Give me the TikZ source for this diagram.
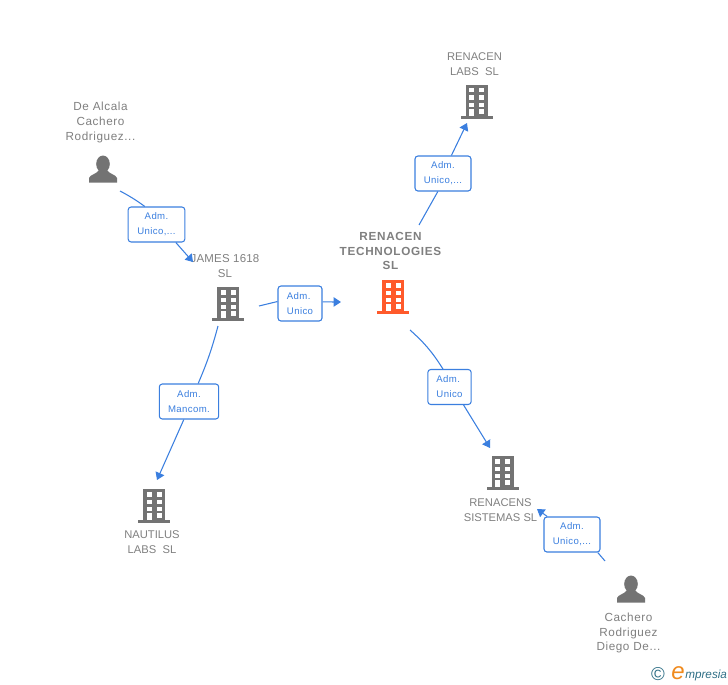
\documentclass[tikz,border=0pt]{standalone}
\usepackage{fontspec}
\setmainfont{Liberation Sans}
\usetikzlibrary{arrows.meta}
\definecolor{linkblue}{HTML}{3B7FDF}
\definecolor{labelgray}{HTML}{7F7F7F}
\definecolor{icongray}{HTML}{737373}
\definecolor{iconorange}{HTML}{FF5A2B}
\definecolor{logoteal}{HTML}{2F6F86}
\definecolor{logoorange}{HTML}{F08A1D}
\tikzset{
  x=0.75pt,y=-0.75pt,
  lbl/.style={text=labelgray,font=\fontsize{8.4pt}{11.2pt}\selectfont,align=center,inner sep=0pt},
  lblmixed/.style={lbl,font=\fontsize{8.8pt}{11.2pt}\selectfont\addfontfeature{LetterSpace=5}},
  lblbold/.style={lbl,font=\fontsize{8.8pt}{11.2pt}\selectfont\bfseries\addfontfeature{LetterSpace=6}},
  rolebox/.style={draw=linkblue,fill=white,rounded corners=2.2pt,line width=0.8pt,text=linkblue,
    font=\fontsize{7.2pt}{11.2pt}\selectfont\addfontfeature{LetterSpace=4},align=center,inner sep=0pt,minimum height=26.25pt},
  roleleft/.style={rolebox,align=left},
  link/.style={draw=linkblue,line width=0.8pt},
  linkarrow/.style={link,-{Triangle[length=5.5pt,width=7pt]}},
  pics/building/.style={code={
    \fill[#1] (-11,-17) rectangle (11,15);
    \fill[#1] (-16,14) rectangle (16,16.5);
    \foreach \yy in {-14,-6.5,0.5}{
      \fill[white] (-7.5,\yy) rectangle (-2.5,\yy+4.5);
      \fill[white] (2.5,\yy) rectangle (7.5,\yy+4.5);}
    \fill[white] (-7.5,7) rectangle (-2.5,14);
    \fill[white] (2.5,7) rectangle (7.5,11.5);
  }},
  pics/person/.style={code={
    \fill[icongray] (0,-6) ellipse (6.8 and 8.5);
    \fill[icongray] (-14,12.5) -- (-14,8) .. controls (-13,4.5) and (-6,4) .. (-4,0)
      -- (4,0) .. controls (6,4) and (13,4.5) .. (14,8) -- (14,12.5) -- cycle;
  }}
}
\begin{document}
\begin{tikzpicture}
\useasboundingbox (0,0) rectangle (728,685);
% icons
\pic at (228,304) {building=icongray};
\pic at (393,297) {building=iconorange};
\pic at (476.5,102) {building=icongray};
\pic at (502.5,473) {building=icongray};
\pic at (154,506) {building=icongray};
\pic at (103,170) {person};
\pic at (631,590) {person};
% labels
\node[lblmixed] (lblalcala) at (100.5,122.5) {De Alcala\\Cachero\\Rodriguez...};
\node[lbl,font=\fontsize{8.6pt}{11.2pt}\selectfont\addfontfeature{LetterSpace=2}] (lbljames) at (225,266) {JAMES 1618\\SL};
\node[lblbold] (lblrenacen) at (390.5,251) {RENACEN\\TECHNOLOGIES\\SL};
\node[lbl] (lbllabs) at (474.5,64) {RENACEN\\LABS\ \ SL};
\node[lbl] (lblsist) at (500.5,510) {RENACENS\\SISTEMAS SL};
\node[lbl] (lblnaut) at (152,542) {NAUTILUS\\LABS\ \ SL};
\node[lblmixed] (lblcach) at (628.5,633) {Cachero\\Rodriguez\\Diego De...};
% free connector ends
\coordinate (a1s) at (120,191);
\coordinate (a1e) at (193,262);
\coordinate (a2s) at (259,306);
\coordinate (a2e) at (341,302);
\coordinate (a3s) at (218,326);
\coordinate (a3e) at (157,480);
\coordinate (a4s) at (419,225);
\coordinate (a4e) at (467,123);
\coordinate (a5s) at (410,330);
\coordinate (a5e) at (490,448);
\coordinate (a6s) at (605,561);
\coordinate (a6e) at (537,509);
% role boxes
\node[rolebox,minimum width=42.5pt] (b1) at (156.5,224.5) {Adm.\\Unico,...};
\node[roleleft,minimum width=33pt] (b2) at (300,303.5) {Adm.\\Unico};
\node[rolebox,minimum width=44.5pt] (b3) at (189,401.5) {Adm.\\Mancom.};
\node[rolebox,minimum width=42pt] (b4) at (443,173.5) {Adm.\\Unico,...};
\node[roleleft,minimum width=32.5pt] (b5) at (449.5,387) {Adm.\\Unico};
\node[rolebox,minimum width=42pt] (b6) at (572,534.5) {Adm.\\Unico,...};
% connectors
\draw[link] (a1s) to[bend left=4] (b1.123);
\draw[linkarrow] (b1.-43) -- (a1e);
\draw[link] (a2s) -- (b2.175);
\draw[linkarrow] (b2.4) -- (a2e);
\draw[link] (a3s) to[bend left=4] (b3.63);
\draw[linkarrow] (b3.-106) -- (a3e);
\draw[link] (a4s) -- (b4.-106);
\draw[linkarrow] (b4.65) -- (a4e);
\draw[link] (a5s) to[bend left=8] (b5.110);
\draw[linkarrow] (b5.-52) -- (a5e);
\draw[link] (a6s) -- (b6.-35);
\draw[linkarrow] (b6.144) -- (a6e);
% logo
\node[text=logoteal,font=\fontsize{14pt}{14pt}\selectfont,inner sep=0pt] (copy) at (658,674) {©};
\node[text=logoorange,font=\fontsize{18pt}{18pt}\selectfont\itshape,inner sep=0pt] (loge) at (678,673) {e};
\node[text=logoteal,font=\fontsize{8.8pt}{10pt}\selectfont\itshape,inner sep=0pt,anchor=west] (logt) at (685,675) {mpresia};
\end{tikzpicture}
\end{document}
